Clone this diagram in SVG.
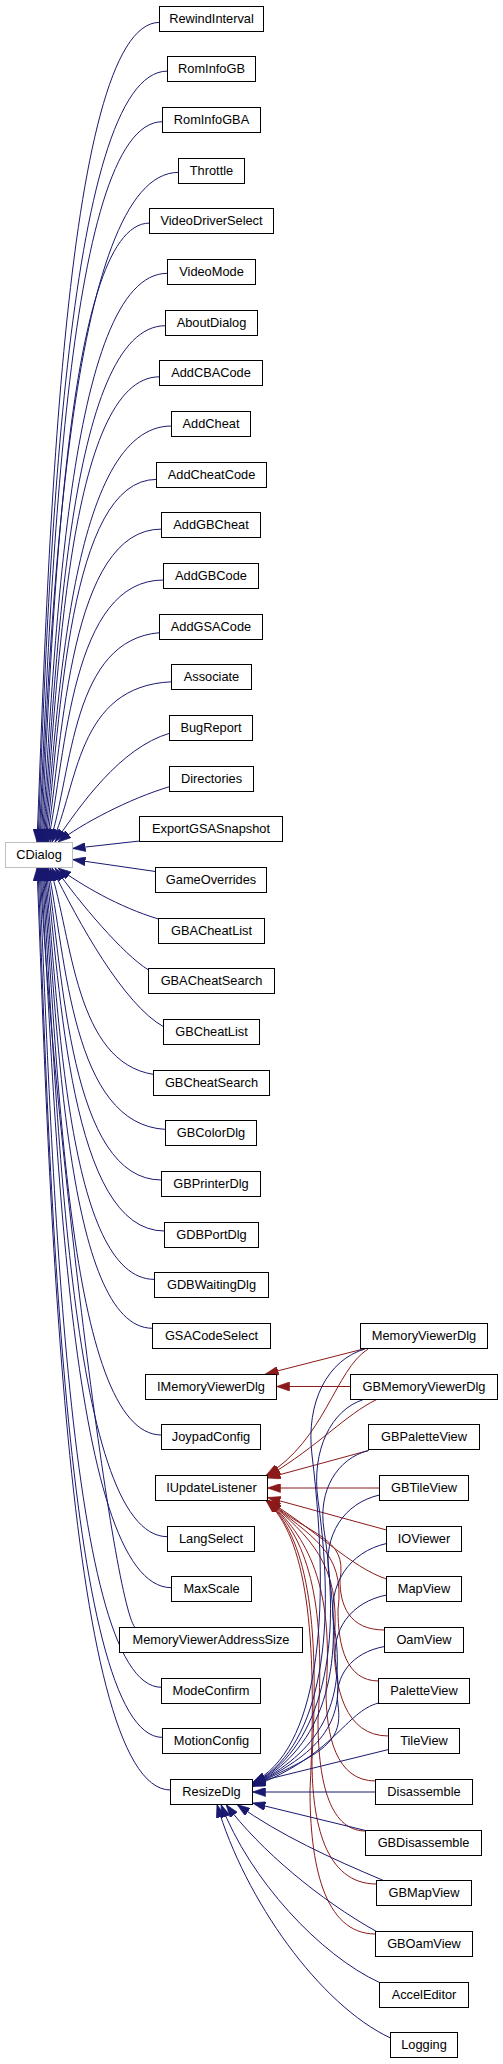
<svg xmlns="http://www.w3.org/2000/svg" width="503" height="2064" viewBox="0 0 503 2064">
<style>
.n rect{fill:#fff;stroke:#000;stroke-width:1}
.n text{font-family:"Liberation Sans",Arial,sans-serif;font-size:12.8px;text-anchor:middle;fill:#000}
#CDialog rect{stroke:#bfbfbf}
.b{fill:none;stroke:#191970;stroke-width:1;marker-end:url(#ab)}
.r{fill:none;stroke:#8b1a1a;stroke-width:1;marker-end:url(#ar)}
</style>
<defs>
<marker id="ab" viewBox="0 0 13 9" refX="13" refY="4.5" markerWidth="13" markerHeight="9" markerUnits="userSpaceOnUse" orient="auto"><path d="M0,0 L13,4.5 L0,9 z" fill="#191970" stroke="#191970" stroke-width="0.6"/></marker>
<marker id="ar" viewBox="0 0 13 9" refX="13" refY="4.5" markerWidth="13" markerHeight="9" markerUnits="userSpaceOnUse" orient="auto"><path d="M0,0 L13,4.5 L0,9 z" fill="#8b1a1a" stroke="#8b1a1a" stroke-width="0.6"/></marker>
</defs>
<rect width="503" height="2064" fill="#fff"/>
<g id="edges">
<path class="b" d="M159.5,22.4 C61.5,22.4 47.4,582.9 37,842"/>
<path class="b" d="M167.5,71.1 C63.8,71.1 47.8,597.5 38,842"/>
<path class="b" d="M162.5,121.7 C63.7,121.7 50.5,612.7 39,842"/>
<path class="b" d="M178.5,172.4 C67.7,172.4 50.7,627.9 40,842"/>
<path class="b" d="M149.5,223.1 C62.7,223.1 52.9,643.1 41,842"/>
<path class="b" d="M167.5,273.3 C67.1,273.3 54.8,658.2 42,842"/>
<path class="b" d="M165.5,325.7 C67.4,325.7 56.4,673.9 43,842"/>
<path class="b" d="M159.5,376.8 C67.1,376.8 57.7,689.2 44,842"/>
<path class="b" d="M171.5,426 C70.3,426 58.8,704.7 45,842"/>
<path class="b" d="M156.5,479.4 C68.1,479.4 60.6,720.9 46,842"/>
<path class="b" d="M161.5,529.1 C69.9,529.1 63,736.1 47,842"/>
<path class="b" d="M163.5,580 C71.1,580 66.3,752 48,842"/>
<path class="b" d="M159.5,632.7 C71.9,640 72.7,769.5 50,842"/>
<path class="b" d="M171.5,681.8 C75.8,686 78.2,786.8 52,842"/>
<path class="b" d="M169.5,733.3 C120,748 80.9,804.4 55,842"/>
<path class="b" d="M169.5,786.7 C129,798.7 82,823.7 58,842"/>
<path class="b" d="M139.5,841 L72.5,848.5"/>
<path class="b" d="M155.5,871.5 L72.5,859.5"/>
<path class="b" d="M158.5,919 C118.5,907 82,885.3 58,868"/>
<path class="b" d="M148.5,970 C122.8,954.1 80,903.2 55,868"/>
<path class="b" d="M163.5,1026.7 C123.8,1004.7 78.1,922 52,868"/>
<path class="b" d="M153.5,1074.4 C75,1062 72.5,938.9 50,868"/>
<path class="b" d="M165.5,1129.4 C71.5,1124.4 66.3,957.1 48,868"/>
<path class="b" d="M161.5,1180 C69.9,1180 63,972.9 47,868"/>
<path class="b" d="M164.5,1231 C69.7,1231 60.7,988.5 46,868"/>
<path class="b" d="M154.5,1279.4 C66.9,1279.4 58.7,1003.2 45,868"/>
<path class="b" d="M152.5,1328.3 C65.7,1328.3 57.6,1018 44,868"/>
<path class="b" d="M161.5,1435 C66.7,1435 57.7,1050.6 43,868"/>
<path class="b" d="M167.5,1536.7 C67.1,1536.7 57,1081.1 42,868"/>
<path class="b" d="M171.5,1587.7 C67,1587.7 54.7,1096.4 41,868"/>
<path class="b" d="M135,1627.5 C112,1600 52,1108.2 40,868"/>
<path class="b" d="M161.5,1687.3 C63.5,1687.3 52,1126.3 39,868"/>
<path class="b" d="M162.5,1737.4 C62.9,1737.4 49,1141.3 38,868"/>
<path class="b" d="M170.5,1790 C63.7,1790 48.6,1157.1 37,868"/>
<path class="r" d="M363.3,1349 L265.5,1374"/>
<path class="r" d="M350.5,1386.5 L276.5,1386.5"/>
<path class="r" d="M368,1349 C335,1370 325,1440 266,1475.5"/>
<path class="r" d="M376.7,1399.5 C345,1415 320,1445 267.5,1476.5"/>
<path class="r" d="M368.5,1450.5 L267.5,1478"/>
<path class="r" d="M379.5,1488 L267.5,1488"/>
<path class="r" d="M386.5,1530 L267.5,1497.5"/>
<path class="r" d="M386.5,1579 C352,1568 312,1527 267.5,1500.5"/>
<path class="r" d="M384.5,1630 C348.9,1630 340,1605 340,1580 C348,1536 309,1536.5 269,1500.5"/>
<path class="r" d="M378.5,1681 C346.1,1681 338,1645.5 338,1610 C346,1549.5 308.5,1536.5 268.5,1500.5"/>
<path class="r" d="M388.5,1736 C344.9,1736 334,1688 334,1640 C342,1563 308,1536.5 268,1500.5"/>
<path class="r" d="M375.5,1781 C335.9,1781 326,1735.5 326,1690 C334,1585.5 307.5,1536.5 267.5,1500.5"/>
<path class="r" d="M365.5,1831 C327.5,1831 318,1775.5 318,1720 C326,1599 307,1536.5 267,1500.5"/>
<path class="r" d="M376.5,1884 C324.9,1884 312,1822 312,1760 C320,1617 306.5,1536.5 266.5,1500.5"/>
<path class="r" d="M375.5,1934 C323.1,1934 310,1862 310,1790 C318,1630.5 306,1536.5 266,1500.5"/>
<path class="b" d="M365,1349 C327.9,1359.6 305.5,1402 312,1455 C332,1618.8 317.5,1750.5 252.5,1782.5"/>
<path class="b" d="M363.5,1399.5 C331.6,1409.5 310.9,1449.8 318,1500 C338,1641.8 317.5,1751.5 252.5,1783.5"/>
<path class="b" d="M368.5,1450.5 C337.3,1458.5 317.7,1490.3 324,1530 C344,1657 317.5,1752 252.5,1784"/>
<path class="b" d="M379.5,1495 C344.1,1503 322.9,1535 329,1575 C345,1679.8 317.5,1752.5 252.5,1784.5"/>
<path class="b" d="M386.5,1543.5 C349.8,1551.6 326.9,1584.3 334,1625 C348,1705 317.5,1753 252.5,1785"/>
<path class="b" d="M386.5,1595 C351.2,1602 330.2,1630 336,1665 C346,1725.3 317.5,1753.5 252.5,1785.5"/>
<path class="b" d="M384.5,1646.5 C351.9,1652.4 333.7,1675.8 338,1705 C344,1745.5 317.5,1754 252.5,1786"/>
<path class="b" d="M378.5,1703 C345,1712 335,1755 252.5,1786.5"/>
<path class="b" d="M388.5,1749.5 L252.5,1783"/>
<path class="b" d="M375.5,1792 L252.5,1792"/>
<path class="b" d="M365.5,1830.5 L252.5,1803"/>
<path class="b" d="M383.5,1880.5 C330,1858 280,1835 237,1804.5"/>
<path class="b" d="M376.5,1931.5 C320,1900 260,1850 226,1804.5"/>
<path class="b" d="M379.5,1982.5 C320,1955 250,1880 221,1804.5"/>
<path class="b" d="M390.5,2038 C320,2005 245,1900 217,1804.5"/>
</g>
<g id="CDialog" class="n"><rect x="5.5" y="842.5" width="67" height="25"/><text x="39" y="859">CDialog</text></g>
<g id="RewindInterval" class="n"><rect x="159.5" y="6.5" width="104" height="25"/><text x="211.5" y="23">RewindInterval</text></g>
<g id="RomInfoGB" class="n"><rect x="167.5" y="56.5" width="88" height="25"/><text x="211.5" y="73">RomInfoGB</text></g>
<g id="RomInfoGBA" class="n"><rect x="162.5" y="107.5" width="98" height="25"/><text x="211.5" y="124">RomInfoGBA</text></g>
<g id="Throttle" class="n"><rect x="178.5" y="158.5" width="66" height="25"/><text x="211.5" y="175">Throttle</text></g>
<g id="VideoDriverSelect" class="n"><rect x="149.5" y="208.5" width="124" height="25"/><text x="211.5" y="225">VideoDriverSelect</text></g>
<g id="VideoMode" class="n"><rect x="167.5" y="259.5" width="88" height="25"/><text x="211.5" y="276">VideoMode</text></g>
<g id="AboutDialog" class="n"><rect x="165.5" y="310.5" width="92" height="25"/><text x="211.5" y="327">AboutDialog</text></g>
<g id="AddCBACode" class="n"><rect x="159.5" y="360.5" width="103" height="25"/><text x="211" y="377">AddCBACode</text></g>
<g id="AddCheat" class="n"><rect x="171.5" y="411.5" width="79" height="25"/><text x="211" y="428">AddCheat</text></g>
<g id="AddCheatCode" class="n"><rect x="156.5" y="462.5" width="110" height="25"/><text x="211.5" y="479">AddCheatCode</text></g>
<g id="AddGBCheat" class="n"><rect x="161.5" y="512.5" width="99" height="25"/><text x="211" y="529">AddGBCheat</text></g>
<g id="AddGBCode" class="n"><rect x="163.5" y="563.5" width="95" height="25"/><text x="211" y="580">AddGBCode</text></g>
<g id="AddGSACode" class="n"><rect x="159.5" y="614.5" width="103" height="25"/><text x="211" y="631">AddGSACode</text></g>
<g id="Associate" class="n"><rect x="171.5" y="664.5" width="80" height="25"/><text x="211.5" y="681">Associate</text></g>
<g id="BugReport" class="n"><rect x="169.5" y="715.5" width="83" height="25"/><text x="211" y="732">BugReport</text></g>
<g id="Directories" class="n"><rect x="169.5" y="766.5" width="84" height="25"/><text x="211.5" y="783">Directories</text></g>
<g id="ExportGSASnapshot" class="n"><rect x="139.5" y="816.5" width="143" height="25"/><text x="211" y="833">ExportGSASnapshot</text></g>
<g id="GameOverrides" class="n"><rect x="155.5" y="867.5" width="111" height="25"/><text x="211" y="884">GameOverrides</text></g>
<g id="GBACheatList" class="n"><rect x="158.5" y="918.5" width="106" height="25"/><text x="211.5" y="935">GBACheatList</text></g>
<g id="GBACheatSearch" class="n"><rect x="148.5" y="968.5" width="126" height="25"/><text x="211.5" y="985">GBACheatSearch</text></g>
<g id="GBCheatList" class="n"><rect x="163.5" y="1019.5" width="96" height="25"/><text x="211.5" y="1036">GBCheatList</text></g>
<g id="GBCheatSearch" class="n"><rect x="153.5" y="1070.5" width="116" height="25"/><text x="211.5" y="1087">GBCheatSearch</text></g>
<g id="GBColorDlg" class="n"><rect x="165.5" y="1120.5" width="91" height="25"/><text x="211" y="1137">GBColorDlg</text></g>
<g id="GBPrinterDlg" class="n"><rect x="161.5" y="1171.5" width="99" height="25"/><text x="211" y="1188">GBPrinterDlg</text></g>
<g id="GDBPortDlg" class="n"><rect x="164.5" y="1222.5" width="94" height="25"/><text x="211.5" y="1239">GDBPortDlg</text></g>
<g id="GDBWaitingDlg" class="n"><rect x="154.5" y="1272.5" width="114" height="25"/><text x="211.5" y="1289">GDBWaitingDlg</text></g>
<g id="GSACodeSelect" class="n"><rect x="152.5" y="1323.5" width="118" height="25"/><text x="211.5" y="1340">GSACodeSelect</text></g>
<g id="IMemoryViewerDlg" class="n"><rect x="145.5" y="1374.5" width="131" height="25"/><text x="211" y="1391">IMemoryViewerDlg</text></g>
<g id="JoypadConfig" class="n"><rect x="161.5" y="1424.5" width="99" height="25"/><text x="211" y="1441">JoypadConfig</text></g>
<g id="IUpdateListener" class="n"><rect x="155.5" y="1475.5" width="112" height="25"/><text x="211.5" y="1492">IUpdateListener</text></g>
<g id="LangSelect" class="n"><rect x="167.5" y="1526.5" width="87" height="25"/><text x="211" y="1543">LangSelect</text></g>
<g id="MaxScale" class="n"><rect x="171.5" y="1576.5" width="80" height="25"/><text x="211.5" y="1593">MaxScale</text></g>
<g id="MemoryViewerAddressSize" class="n"><rect x="119.5" y="1627.5" width="183" height="25"/><text x="211" y="1644">MemoryViewerAddressSize</text></g>
<g id="ModeConfirm" class="n"><rect x="161.5" y="1678.5" width="99" height="25"/><text x="211" y="1695">ModeConfirm</text></g>
<g id="MotionConfig" class="n"><rect x="162.5" y="1728.5" width="98" height="25"/><text x="211.5" y="1745">MotionConfig</text></g>
<g id="ResizeDlg" class="n"><rect x="170.5" y="1779.5" width="82" height="25"/><text x="211.5" y="1796">ResizeDlg</text></g>
<g id="MemoryViewerDlg" class="n"><rect x="360.5" y="1323.5" width="127" height="25"/><text x="424" y="1340">MemoryViewerDlg</text></g>
<g id="GBMemoryViewerDlg" class="n"><rect x="350.5" y="1374.5" width="147" height="25"/><text x="424" y="1391">GBMemoryViewerDlg</text></g>
<g id="GBPaletteView" class="n"><rect x="368.5" y="1424.5" width="111" height="25"/><text x="424" y="1441">GBPaletteView</text></g>
<g id="GBTileView" class="n"><rect x="379.5" y="1475.5" width="89" height="25"/><text x="424" y="1492">GBTileView</text></g>
<g id="IOViewer" class="n"><rect x="386.5" y="1526.5" width="75" height="25"/><text x="424" y="1543">IOViewer</text></g>
<g id="MapView" class="n"><rect x="386.5" y="1576.5" width="75" height="25"/><text x="424" y="1593">MapView</text></g>
<g id="OamView" class="n"><rect x="384.5" y="1627.5" width="79" height="25"/><text x="424" y="1644">OamView</text></g>
<g id="PaletteView" class="n"><rect x="378.5" y="1678.5" width="91" height="25"/><text x="424" y="1695">PaletteView</text></g>
<g id="TileView" class="n"><rect x="388.5" y="1728.5" width="71" height="25"/><text x="424" y="1745">TileView</text></g>
<g id="Disassemble" class="n"><rect x="375.5" y="1779.5" width="97" height="25"/><text x="424" y="1796">Disassemble</text></g>
<g id="GBDisassemble" class="n"><rect x="365.5" y="1830.5" width="116" height="25"/><text x="423.5" y="1847">GBDisassemble</text></g>
<g id="GBMapView" class="n"><rect x="376.5" y="1880.5" width="95" height="25"/><text x="424" y="1897">GBMapView</text></g>
<g id="GBOamView" class="n"><rect x="375.5" y="1931.5" width="97" height="25"/><text x="424" y="1948">GBOamView</text></g>
<g id="AccelEditor" class="n"><rect x="379.5" y="1982.5" width="89" height="25"/><text x="424" y="1999">AccelEditor</text></g>
<g id="Logging" class="n"><rect x="390.5" y="2032.5" width="67" height="25"/><text x="424" y="2049">Logging</text></g>
</svg>
